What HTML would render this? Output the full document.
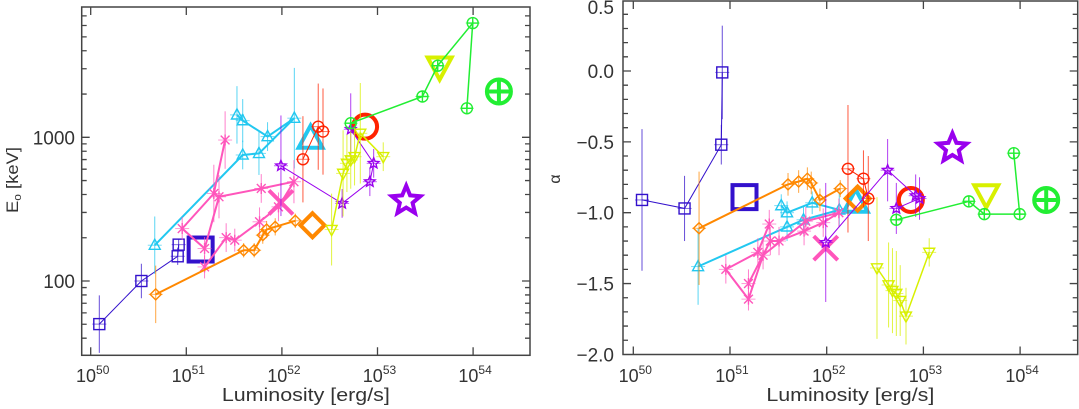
<!DOCTYPE html>
<html><head><meta charset="utf-8">
<style>
html,body{margin:0;padding:0;background:#fff;}
svg{display:block;font-family:"Liberation Sans",sans-serif;}
</style></head>
<body>
<svg id="chart" width="1079" height="409" viewBox="0 0 1079 409" xmlns="http://www.w3.org/2000/svg"></svg>
<script>
// ---- data (log10 luminosity, log10 E0, alpha) ----
const seriesNames = ["blue-squares","cyan-triangles","pink-asterisks","orange-diamonds","red-circles","purple-stars","yellow-triangles","green-circleplus"];
const seriesColors = ["#3311cc","#22c8f0","#ff55bb","#ff8800","#ff2200","#9900ee","#d8f000","#22ee33"];
const seriesMarkers = ["square","triangle","asterisk","diamond","circle","star","invtriangle","circleplus"];
const blueL = [50.09,50.53,50.91,50.92];
const blueE = [1.70,2.00,2.172,2.253];
const blueA = [-0.91,-0.97,-0.52,-0.01];
const blueEerr = [0.2,0.12,0.06,0.04];
const blueAerr = [0.5,0.23,0.14,0.33];
const cyanL = [50.67,51.59,51.76,52.13,51.85,51.59,51.53];
const cyanE = [2.249,2.877,2.888,3.133,3.005,3.116,3.156];
const cyanA = [-1.38,-1.10,-1.05,-0.98,-0.93,-1.00,-0.95];
const cyanEerr = [0.2,0.1,0.15,0.35,0.1,0.15,0.2];
const cyanAerr = [0.27,0.1,0.1,0.12,0.08,0.08,0.08];
const pinkL = [51.406,51.288,50.957,51.191,51.342,51.784,52.126,51.964,51.766,51.507,51.417,51.191];
const pinkE = [2.981,2.609,2.365,2.226,2.586,2.644,2.691,2.516,2.412,2.284,2.302,2.098];
const pinkA = [-1.08,-1.28,-1.40,-1.61,-1.30,-1.06,-1.00,-1.07,-1.13,-1.20,-1.20,-1.50];
const pinkEerr = [0.2,0.2,0.08,0.08,0.15,0.1,0.15,0.1,0.1,0.08,0.1,0.08];
const pinkAerr = [0.1,0.1,0.1,0.08,0.1,0.1,0.1,0.1,0.1,0.1,0.1,0.1];
const orangeL = [50.68,51.60,51.71,51.80,51.84,51.93,52.14];
const orangeE = [1.907,2.214,2.214,2.319,2.358,2.377,2.419];
const orangeA = [-1.11,-0.80,-0.78,-0.76,-0.79,-0.91,-0.83];
const orangeEerr = [0.2,0.05,0.05,0.06,0.06,0.06,0.05];
const orangeAerr = [0.4,0.08,0.08,0.08,0.08,0.08,0.06];
const redL = [52.22,52.38,52.43];
const redE = [2.847,3.074,3.040];
const redA = [-0.69,-0.76,-0.90];
const redEerr = [0.3,0.3,0.3];
const redAerr = [0.45,0.2,0.3];
const purpleL = [51.99,52.63,52.92,52.96,52.72];
const purpleE = [2.802,2.540,2.691,2.819,3.056];
const purpleA = [-1.21,-0.70,-0.88,-0.90,-0.97];
const purpleEerr = [0.35,0.1,0.1,0.1,0.25];
const purpleAerr = [0.42,0.22,0.15,0.15,0.18];
const yellowL = [52.52,52.64,52.68,52.72,52.76,52.82,53.06];
const yellowE = [2.358,2.749,2.819,2.842,2.865,3.028,2.865];
const yellowA = [-1.39,-1.51,-1.55,-1.57,-1.62,-1.73,-1.28];
const yellowEerr = [0.25,0.3,0.2,0.2,0.2,0.35,0.1];
const yellowAerr = [0.5,0.3,0.3,0.3,0.25,0.2,0.1];
const greenL = [52.72,53.47,53.63,53.996,53.935];
const greenE = [3.098,3.284,3.498,3.795,3.202];
const greenA = [-1.05,-0.92,-1.01,-1.01,-0.58];
const summaryL = [51.15,52.30,51.99,52.32,52.87,53.30,53.65,54.27];
const summaryE = [2.219,2.99,2.547,2.388,3.074,2.558,3.493,3.319];
const summaryA = [-0.89,-0.93,-1.25,-0.90,-0.91,-0.545,-0.87,-0.91];
const xTickExps = [50,51,52,53,54];
const leftYTicks = [100,1000];
const rightYTicks = ["0.5","0.0","-0.5","-1.0","-1.5","-2.0"];

const allL=[blueL,cyanL,pinkL,orangeL,redL,purpleL,yellowL,greenL];
const allE=[blueE,cyanE,pinkE,orangeE,redE,purpleE,yellowE,greenE];
const allA=[blueA,cyanA,pinkA,orangeA,redA,purpleA,yellowA,greenA];
const allEe=[blueEerr,cyanEerr,pinkEerr,orangeEerr,redEerr,purpleEerr,yellowEerr,[0.02,0.02,0.02,0.02,0.02]];
const allAe=[blueAerr,cyanAerr,pinkAerr,orangeAerr,redAerr,purpleAerr,yellowAerr,[0.03,0.03,0.03,0.03,0.03]];
const lineW=[1,2,2,2,1,1,1.5,1.5];

const NS="http://www.w3.org/2000/svg";
const svg=document.getElementById('chart');
function mk(tag,attrs,parent){const e=document.createElementNS(NS,tag);for(const k in attrs)e.setAttribute(k,attrs[k]);(parent||svg).appendChild(e);return e;}

const P1={x0:81.7,x1:530,y0:7,y1:355.3};
const P2={x0:623,x1:1077.7,y0:1,y1:354.5};
const xL=l=>90.7+(l-50)*95.6;
const yL=le=>137.3-(le-3)*143.7;
const xR=l=>633.3+(l-50)*96.7;
const yR=a=>71-a*141.7;

function marker(g,type,x,y,s,color,sw){
  const h=s/2;
  if(type==="square")return mk('rect',{x:x-h,y:y-h,width:s,height:s,fill:'none',stroke:color,'stroke-width':sw},g);
  if(type==="triangle")return mk('polygon',{points:`${x},${y-h*1.1} ${x-h},${y+h*0.75} ${x+h},${y+h*0.75}`,fill:'none',stroke:color,'stroke-width':sw},g);
  if(type==="invtriangle")return mk('polygon',{points:`${x},${y+h*1.1} ${x-h},${y-h*0.75} ${x+h},${y-h*0.75}`,fill:'none',stroke:color,'stroke-width':sw},g);
  if(type==="diamond")return mk('polygon',{points:`${x},${y-h} ${x+h},${y} ${x},${y+h} ${x-h},${y}`,fill:'none',stroke:color,'stroke-width':sw},g);
  if(type==="circle")return mk('circle',{cx:x,cy:y,r:h,fill:'none',stroke:color,'stroke-width':sw},g);
  if(type==="circleplus"){const c=mk('g',{},g);mk('circle',{cx:x,cy:y,r:h,fill:'none',stroke:color,'stroke-width':sw},c);mk('path',{d:`M${x-h} ${y}H${x+h}M${x} ${y-h}V${y+h}`,stroke:color,'stroke-width':sw},c);return c;}
  if(type==="asterisk"){const d=h*0.8;return mk('path',{d:`M${x-d} ${y-d}L${x+d} ${y+d}M${x-d} ${y+d}L${x+d} ${y-d}M${x} ${y-h}V${y+h}`,stroke:color,'stroke-width':sw,fill:'none'},g);}
  if(type==="cross"){return mk('path',{d:`M${x-h} ${y-h}L${x+h} ${y+h}M${x-h} ${y+h}L${x+h} ${y-h}`,stroke:color,'stroke-width':sw,fill:'none'},g);}
  if(type==="star"){let p=[];for(let i=0;i<10;i++){const r=i%2?h*0.45:h;const a=-Math.PI/2+i*Math.PI/5;p.push((x+r*Math.cos(a)).toFixed(1)+','+(y+r*Math.sin(a)).toFixed(1));}return mk('polygon',{points:p.join(' '),fill:'none',stroke:color,'stroke-width':sw,'stroke-linejoin':'miter'},g);}
}

function panel(P,xf,yf,yData,yErr,name){
  const g=mk('g',{});
  
  
  for(let s=0;s<allL.length;s++){
    const sg=mk('g',{},g);
    
    
    const L=allL[s],Y=yData[s],Ee=yErr[s],col=seriesColors[s];
    for(let i=0;i<L.length;i++){
      const x=xf(L[i]),y1=yf(Y[i]-Ee[i]),y2=yf(Y[i]+Ee[i]);
      const eb=mk('line',{x1:x,y1:Math.min(Math.max(y1,P.y0),P.y1),x2:x,y2:Math.min(Math.max(y2,P.y0),P.y1),stroke:col,'stroke-width':1,opacity:0.75},sg);
      
      
      const hx=mk('line',{x1:x-7,y1:yf(Y[i]),x2:x+7,y2:yf(Y[i]),stroke:col,'stroke-width':1,opacity:0.6},sg);
      
      
    }
    const pts=L.map((l,i)=>xf(l).toFixed(1)+','+yf(Y[i]).toFixed(1)).join(' ');
    const pl=mk('polyline',{points:pts,fill:'none',stroke:col,'stroke-width':lineW[s]},sg);
    
    
    for(let i=0;i<L.length;i++){
      const m=marker(sg,seriesMarkers[s],xf(L[i]),yf(Y[i]),11,col,1.4);
      
      
    }
    const sy=name==='left'?summaryE[s]:summaryA[s];
    const t=seriesMarkers[s]==='asterisk'?'cross':seriesMarkers[s];
    const sm=marker(sg,t,xf(summaryL[s]),yf(sy),t==='star'?30:24,col,4);
    
    
  }
  const fr=mk('rect',{x:P.x0,y:P.y0,width:P.x1-P.x0,height:P.y1-P.y0,fill:'none',stroke:'#444','stroke-width':1.5});
  
  
  xTickExps.forEach(e=>{
    const x=xf(e);
    mk('path',{d:`M${x} ${P.y1}V${P.y1-8}M${x} ${P.y0}V${P.y0+8}`,stroke:'#444','stroke-width':1.3});
    const t=mk('text',{x:x+2,y:382,'text-anchor':'middle','font-size':18,fill:'#333'});
    
    
    t.textContent='10';
    const sp=mk('tspan',{dy:-8,'font-size':12},t);sp.textContent=String(e);
  });
  const cx=(P.x0+P.x1)/2;
  const xt=mk('text',{x:cx-84,y:401,'font-size':18,fill:'#333',textLength:168,lengthAdjust:'spacingAndGlyphs'});
  
  
  xt.textContent='Luminosity [erg/s]';
}

panel(P1,xL,yL,allE,allEe,'left');
panel(P2,xR,yR,allA,allAe,'right');

for(let d=1;d<4;d++){for(let m=1;m<10;m++){const v=m*Math.pow(10,d);const lv=Math.log10(v);const y=yL(lv);if(y<P1.y0+1||y>P1.y1-1)continue;const len=m===1?8:5;mk('path',{d:`M${P1.x0} ${y}h${len}M${P1.x1} ${y}h${-len}`,stroke:'#444','stroke-width':1.3});}}
leftYTicks.forEach(v=>{const t=mk('text',{x:75,y:yL(Math.log10(v))+7,'text-anchor':'end','font-size':19,fill:'#333'});t.textContent=String(v);});
const yt1=mk('text',{x:0,y:0,transform:'translate(18,213) rotate(-90)','font-size':17,fill:'#333',textLength:66,lengthAdjust:'spacingAndGlyphs'});


yt1.textContent='E';
const sub=mk('tspan',{dy:3,'font-size':11},yt1);sub.textContent='o';
const rest=mk('tspan',{dy:-3},yt1);rest.textContent=' [keV]';

for(let k=-20;k<=5;k++){const a=k/10;const y=yR(a);if(y<P2.y0+1||y>P2.y1-1)continue;const len=k%5===0?8:5;mk('path',{d:`M${P2.x0} ${y}h${len}M${P2.x1} ${y}h${-len}`,stroke:'#444','stroke-width':1.3});}
rightYTicks.forEach(s=>{const v=parseFloat(s);const t=mk('text',{x:614,y:Math.max(yR(v)+7,14),'text-anchor':'end','font-size':19,fill:'#333'});t.textContent=s.replace('-','\u2212');});
const yt2=mk('text',{x:0,y:0,transform:'translate(560,179) rotate(-90)','text-anchor':'middle','font-size':16,fill:'#333'});


yt2.textContent='\u03b1';
</script>
</body></html>
